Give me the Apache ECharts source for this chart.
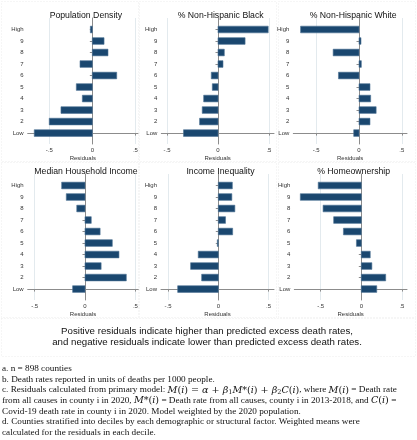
<!DOCTYPE html>
<html>
<head>
<meta charset="utf-8">
<script src="https://cdn.jsdelivr.net/npm/echarts@6/dist/echarts.min.js"></script>
<style>
html,body{margin:0;padding:0;background:#fff;}
#chart{width:417px;height:440px;}
</style>
</head>
<body>
<div id="chart"></div>
<script>
// Decile categories, from Low (bottom) to High (top)
const deciles = ['Low', '2', '3', '4', '5', '6', '7', '8', '9', 'High'];
const xTicks = [-0.5, 0, 0.5];

const panelTitles = ['Population Density', '% Non-Hispanic Black', '% Non-Hispanic White',
  'Median Household Income', 'Income Inequality', '% Homeownership'];

// Residuals by decile (Low ... High)
const popDensity   = [-0.674, -0.50, -0.364, -0.116, -0.186, 0.283, -0.143, 0.182, 0.136, -0.023];
const pctBlack     = [-0.339, -0.181, -0.155, -0.141, -0.056, -0.066, 0.049, 0.062, 0.266, 0.493];
const pctWhite     = [-0.062, 0.128, 0.200, 0.136, 0.128, -0.240, 0.027, -0.302, 0.023, -0.682];
const medIncome    = [-0.123, 0.410, 0.160, 0.337, 0.271, 0.150, 0.062, -0.082, -0.186, -0.232];
const incInequal   = [-0.405, -0.166, -0.276, -0.200, -0.010, 0.143, 0.072, 0.165, 0.135, 0.140];
const homeowner    = [0.190, 0.300, 0.130, 0.110, -0.060, -0.220, -0.340, -0.470, -0.750, -0.530];

const panelData = [popDensity, pctBlack, pctWhite, medIncome, incInequal, homeowner];

const captionLines = [
  'Positive residuals indicate higher than predicted excess death rates,',
  'and negative residuals indicate lower than predicted excess death rates.'
];

// layout (pixels)
const panelBoxes = [
  {left: 27.7, width: 110.3, top: 18, min: -0.75, max: 0.53},
  {left: 161.3, width: 112.7, top: 18, min: -0.557, max: 0.55},
  {left: 293.3, width: 113.7, top: 18, min: -0.767, max: 0.56},
  {left: 27.7, width: 110.6, top: 174, min: -0.569, max: 0.529},
  {left: 161, width: 113, top: 174, min: -0.571, max: 0.555},
  {left: 294.3, width: 112.7, top: 174, min: -0.824, max: 0.562}
];
const plotH = 126;

const AXIS_COLOR = '#8c8c8c';
const LABEL_COLOR = '#333';
const BAR_COLOR = '#1a476f';

function fmtTick(v) {
  if (v === 0) return '0';
  return (v < 0 ? '-' : '') + String(Math.abs(v)).replace(/^0/, '');
}

const grids = [], xAxes = [], yAxes = [], series = [], titles = [];
panelBoxes.forEach((b, i) => {
  grids.push({left: b.left, top: b.top, width: b.width, height: plotH, containLabel: false});
  xAxes.push({
    type: 'value', gridIndex: i, min: b.min, max: b.max,
    name: 'Residuals', nameLocation: 'middle', nameGap: 11,
    nameTextStyle: {fontFamily: 'Liberation Sans', fontSize: 6, color: LABEL_COLOR},
    axisLine: {show: true, lineStyle: {color: AXIS_COLOR, width: 1}},
    axisTick: {show: true, length: 2.5, customValues: xTicks, lineStyle: {color: AXIS_COLOR}},
    axisLabel: {show: true, customValues: xTicks, formatter: fmtTick, margin: 3,
      fontFamily: 'Liberation Sans', fontSize: 6, color: LABEL_COLOR},
    splitLine: {show: false}
  });
  yAxes.push({
    type: 'value', gridIndex: i, min: -0.95, max: 10,
    axisLine: {show: true, lineStyle: {color: AXIS_COLOR, width: 1}},
    axisTick: {show: true, length: 2.5, customValues: deciles.map((d, k) => k), lineStyle: {color: AXIS_COLOR}},
    axisLabel: {show: true, customValues: deciles.map((d, k) => k),
      formatter: v => deciles[Math.round(v)], margin: 4,
      fontFamily: 'Liberation Sans', fontSize: 6, color: LABEL_COLOR},
    splitLine: {show: false}
  });
  series.push({
    type: 'custom', xAxisIndex: i, yAxisIndex: i,
    data: panelData[i].map((v, k) => [v, k]),
    encode: {x: 0, y: 1},
    renderItem: function (params, api) {
      const v = api.value(0), c = api.value(1);
      const p0 = api.coord([0, c]);
      const p1 = api.coord([v, c]);
      const h = api.size([0, 0.58])[1];
      return {
        type: 'rect',
        shape: {x: Math.min(p0[0], p1[0]), y: p0[1] - h / 2, width: Math.abs(p1[0] - p0[0]), height: h},
        style: {fill: BAR_COLOR, stroke: '#4f7396', lineWidth: 0.6}
      };
    },
    markLine: {
      silent: true, symbol: 'none', z: 0,
      label: {show: false},
      lineStyle: {color: '#e3eaee', width: 1, type: 'solid'},
      data: xTicks.map(t => ({xAxis: t}))
    },
    z: 3
  });
  titles.push({
    text: panelTitles[i],
    left: b.left + b.width / 2 - 2, top: b.top - 12,
    textAlign: 'center',
    textStyle: {fontFamily: 'Liberation Sans', fontSize: 8.7, fontWeight: 'normal', color: '#111'}
  });
});

const footLines = [
  'a. n = 898 counties',
  'b. Death rates reported in units of deaths per 1000 people.',
  'c. Residuals calculated from primary model: {mi|M}{m|(}{mi|i}{m|) = }{mi|α}{m| + }{mi|β}{s|1}{mi|M}{m|*(}{mi|i}{m|) + }{mi|β}{s|2}{mi|C}{m|(}{mi|i}{m|)}, where {mi|M}{m|(}{mi|i}{m|)} = Death rate',
  'from all causes in county i in 2020, {mi|M}{m|*(}{mi|i}{m|)} = Death rate from all causes, county i in 2013-2018, and {mi|C}{m|(}{mi|i}{m|)} =',
  'Covid-19 death rate in county i in 2020. Model weighted by the 2020 population.',
  'd. Counties stratified into deciles by each demographic or structural factor. Weighted means were',
  'calculated for the residuals in each decile.'
];
const footY = [369, 379.5, 390, 400.7, 411.5, 422, 432.5];

const graphics = [];
// faint dotted region outlines
const boxes = [
  [1, 1, 137, 160], [139, 1, 137, 160], [278, 1, 137, 160],
  [1, 162, 137, 155], [139, 162, 137, 155], [278, 162, 137, 155],
  [1, 318, 414, 38]
];
boxes.forEach(bx => {
  graphics.push({
    type: 'rect', silent: true, z: -1,
    shape: {x: bx[0] + 0.5, y: bx[1] + 0.5, width: bx[2], height: bx[3]},
    style: {fill: null, stroke: '#ececec', lineWidth: 1, lineDash: [1, 2]}
  });
});
captionLines.forEach((t, k) => {
  graphics.push({
    type: 'text', x: 207, y: 331 + k * 11,
    style: {text: t, fontFamily: 'Liberation Sans', fontSize: 9.7, fill: '#111',
      align: 'center', verticalAlign: 'middle'}
  });
});
footLines.forEach((t, k) => {
  graphics.push({
    type: 'text', x: 2, y: footY[k],
    style: {
      text: t, fontFamily: 'Liberation Serif', fontSize: 9.2, fill: '#111',
      verticalAlign: 'middle',
      rich: {
        mi: {fontFamily: 'DejaVu Serif', fontStyle: 'italic', fontSize: 9.6, fill: '#111'},
        m: {fontFamily: 'DejaVu Serif', fontSize: 9.6, fill: '#111'},
        s: {fontFamily: 'DejaVu Serif', fontSize: 6.5, fill: '#111', padding: [5, 0, 0, 0]}
      }
    }
  });
});

const chart = echarts.init(document.getElementById('chart'), null, {renderer: 'canvas'});
chart.setOption({
  backgroundColor: '#fff',
  animation: false,
  title: titles,
  grid: grids,
  xAxis: xAxes,
  yAxis: yAxes,
  series: series,
  graphic: graphics
});
</script>
</body>
</html>
